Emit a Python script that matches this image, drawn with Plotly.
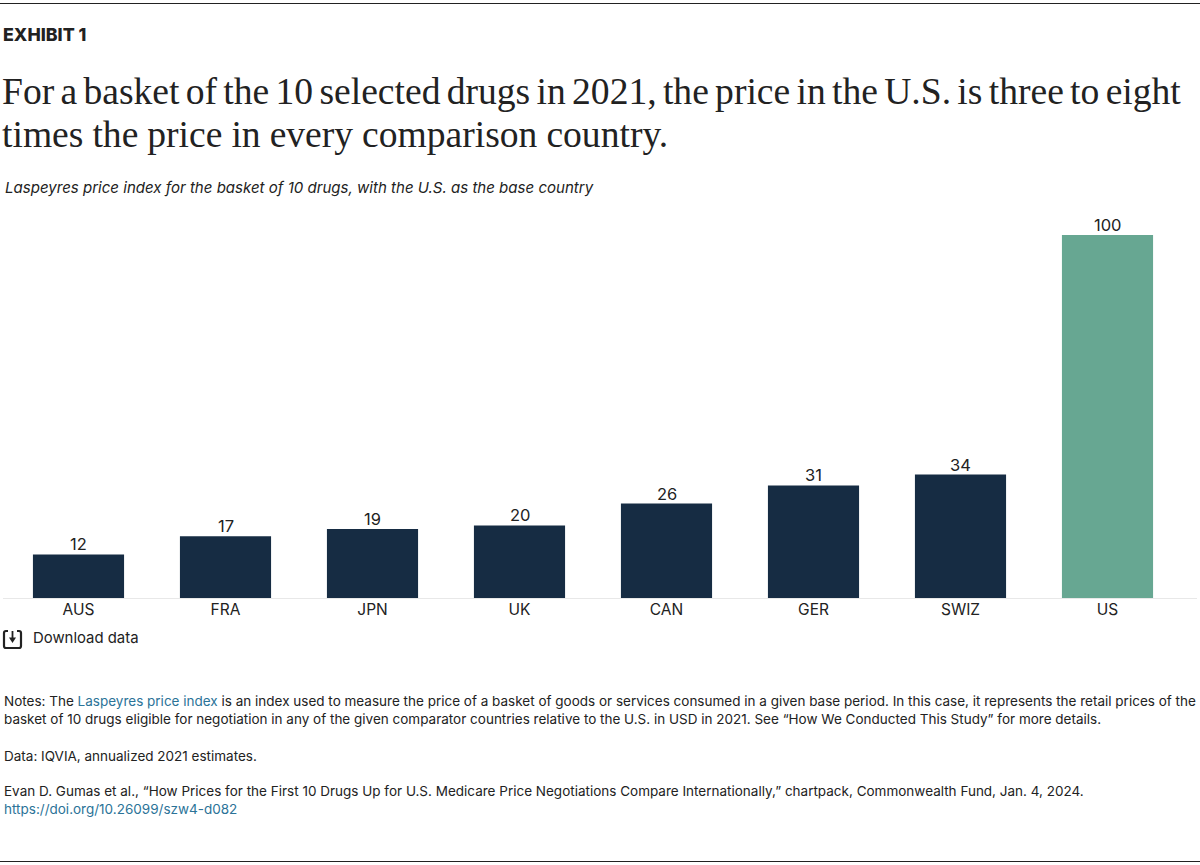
import plotly.graph_objects as go

categories = ["AUS", "FRA", "JPN", "UK", "CAN", "GER", "SWIZ", "US"]
values = [12, 17, 19, 20, 26, 31, 34, 100]
NAVY = "#162C43"
GREEN = "#67A792"
LINK = "#2B7398"
INK = "#222222"
SANS = "Inter, 'Liberation Sans', sans-serif"
SERIF = "'Liberation Serif', serif"
W, H = 1200, 865
PX_PER_UNIT = 3.63
BASE_Y = 598
TOP_Y = 205

def px(x): return x / W
def py(y): return 1 - y / H

colors = [GREEN if c == "US" else NAVY for c in categories]
fig = go.Figure(go.Bar(
    x=categories, y=values, marker=dict(color=colors, line=dict(width=0)), width=0.62,
    hoverinfo="skip"))

for c, v in zip(categories, values):
    fig.add_annotation(xref="x", yref="y", x=c, y=v, text=str(v), showarrow=False, yanchor="middle",
                       yshift=10, font=dict(family=SANS, size=16.5, color=INK))

def text(x, y, s, size, family=SANS, color=INK, anchor="left", weight=None):
    fig.add_annotation(xref="paper", yref="paper", x=px(x - 2), y=py(y), text=s, showarrow=False,
                       xanchor=anchor, yanchor="middle", align="left",
                       font=dict(family=family, size=size, color=color, weight=weight))

text(3, 34.5, "EXHIBIT 1", 17.8, weight=800)
text(2, 91, '<span style="word-spacing:-3.1px">For a basket of the 10 selected drugs in 2021, the price in the U.S. is three to eight</span>', 37.6, SERIF)
text(2, 134, '<span style="word-spacing:-0.4px">times the price in every comparison country.</span>', 37.6, SERIF)
text(5, 187, "<i>Laspeyres price index for the basket of 10 drugs, with the U.S. as the base country</i>", 15.05)
text(33, 638, "Download data", 14.9)
link = lambda s: f'<span style="color:{LINK}">{s}</span>'
NOTE = 13.5
text(4, 701, "Notes: The " + link("Laspeyres price index") + " is an index used to measure the price of a basket of goods or services consumed in a given base period. In this case, it represents the retail prices of the", NOTE)
text(4, 719, "basket of 10 drugs eligible for negotiation in any of the given comparator countries relative to the U.S. in USD in 2021. See “How We Conducted This Study” for more details.", NOTE)
text(4, 756, "Data: IQVIA, annualized 2021 estimates.", NOTE)
text(4, 791, "Evan D. Gumas et al., “How Prices for the First 10 Drugs Up for U.S. Medicare Price Negotiations Compare Internationally,” chartpack, Commonwealth Fund, Jan. 4, 2024.", NOTE)
text(4, 809, link("https://doi.org/10.26099/szw4-d082"), NOTE)

def hline(y, x0, x1, color, width):
    fig.add_shape(type="line", xref="paper", yref="paper", x0=px(x0), x1=px(x1), y0=py(y), y1=py(y),
                  line=dict(color=color, width=width), layer="below")

hline(3.5, 0, 1200, "#222222", 1)
hline(861.5, 0, 1200, "#222222", 1)
hline(598.5, 3, 1197, "#E8E8E8", 1)

p = lambda a, b: f"{px(a)},{py(b)}"
icon = (f"M {p(8, 631)} L {p(6, 631)} Q {p(4, 631)} {p(4, 633)} L {p(4, 646)} Q {p(4, 648)} {p(6, 648)} "
        f"L {p(19, 648)} Q {p(21, 648)} {p(21, 646)} L {p(21, 633)} Q {p(21, 631)} {p(19, 631)} L {p(17, 631)}")
fig.add_shape(type="path", xref="paper", yref="paper", path=icon, line=dict(color=INK, width=2.2))
fig.add_shape(type="line", xref="paper", yref="paper", x0=px(12.5), x1=px(12.5), y0=py(631), y1=py(639),
              line=dict(color=INK, width=1.8))
fig.add_shape(type="path", xref="paper", yref="paper",
              path=f"M {p(9, 637.5)} L {p(16, 637.5)} L {p(12.5, 643)} Z",
              fillcolor=INK, line=dict(color=INK, width=0))

fig.update_layout(
    width=W, height=H, autosize=False, margin=dict(l=0, r=0, t=0, b=0),
    paper_bgcolor="white", plot_bgcolor="white", showlegend=False,
    xaxis=dict(domain=[px(5), px(1181)], type="category", showgrid=False, showline=False, zeroline=False,
               ticks="", tickfont=dict(family=SANS, size=15.5, color=INK), automargin=False),
    yaxis=dict(domain=[py(BASE_Y), py(TOP_Y)], range=[0, (BASE_Y - TOP_Y) / PX_PER_UNIT], showgrid=False,
               showline=False, zeroline=False, showticklabels=False, ticks=""),
)
fig.write_html("out.html", post_script="document.body.style.margin='0';", config={"displayModeBar": False})
